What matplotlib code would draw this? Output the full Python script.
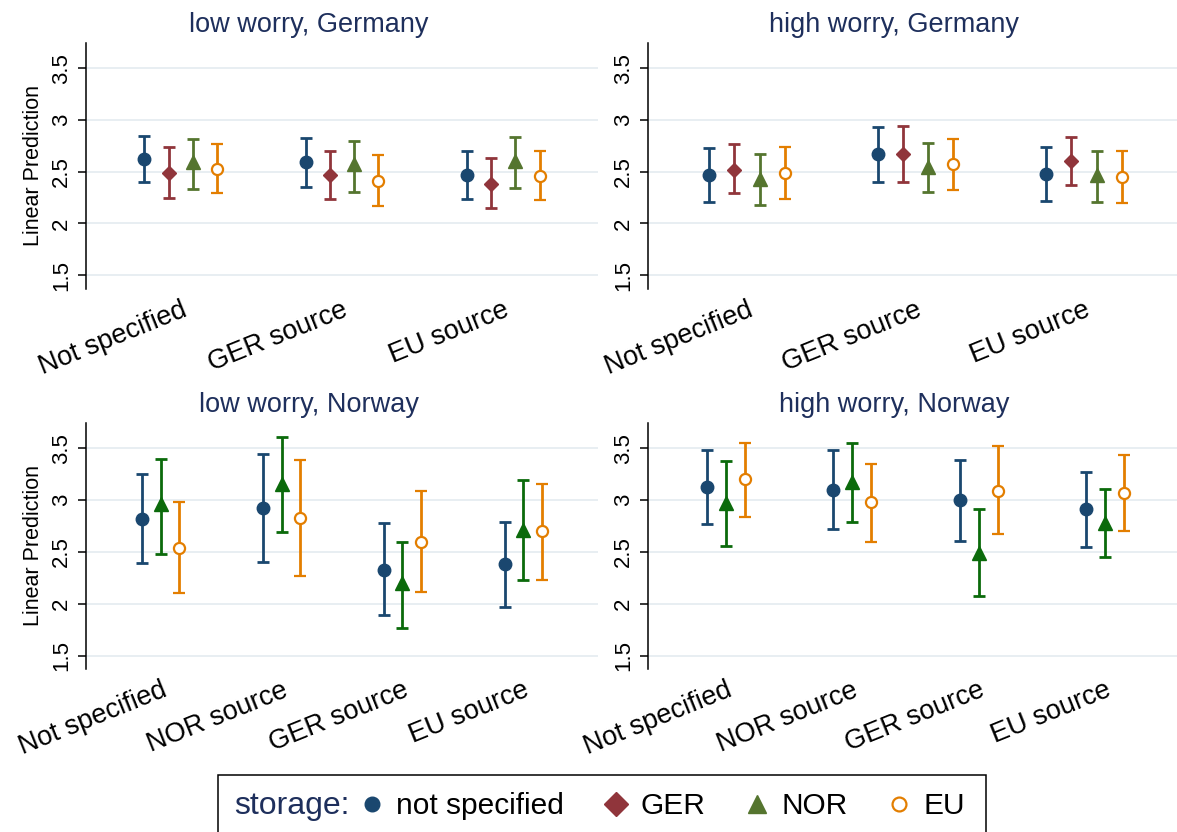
import numpy as np
import matplotlib.pyplot as plt
from matplotlib.lines import Line2D
from matplotlib.patches import Rectangle

plt.rcParams['font.family'] = ['Liberation Sans', 'DejaVu Sans']

# categories
storage = ['not specified', 'GER', 'NOR', 'EU']
src_ger = ['Not specified', 'GER source', 'EU source']
src_nor = ['Not specified', 'NOR source', 'GER source', 'EU source']

# low worry, Germany  (rows: storage not specified, GER, NOR, EU)
lg_est = [[2.62, 2.59, 2.47], [2.49, 2.47, 2.38], [2.59, 2.57, 2.60], [2.53, 2.41, 2.46]]
lg_lo = [[2.40, 2.35, 2.24], [2.25, 2.24, 2.15], [2.33, 2.30, 2.34], [2.29, 2.17, 2.23]]
lg_hi = [[2.85, 2.83, 2.70], [2.74, 2.70, 2.63], [2.82, 2.80, 2.84], [2.77, 2.66, 2.70]]

# high worry, Germany
hg_est = [[2.47, 2.67, 2.48], [2.52, 2.67, 2.60], [2.43, 2.55, 2.47], [2.49, 2.57, 2.45]]
hg_lo = [[2.21, 2.40, 2.22], [2.29, 2.40, 2.37], [2.18, 2.30, 2.21], [2.24, 2.32, 2.20]]
hg_hi = [[2.73, 2.93, 2.74], [2.77, 2.94, 2.84], [2.67, 2.78, 2.70], [2.74, 2.82, 2.70]]

# low worry, Norway  (rows: storage not specified, NOR, EU)
ln_est = [[2.82, 2.92, 2.33, 2.38], [2.96, 3.16, 2.20, 2.71], [2.54, 2.83, 2.60, 2.70]]
ln_lo = [[2.39, 2.40, 1.89, 1.97], [2.48, 2.69, 1.77, 2.23], [2.10, 2.27, 2.11, 2.23]]
ln_hi = [[3.25, 3.45, 2.78, 2.79], [3.40, 3.61, 2.60, 3.19], [2.98, 3.39, 3.09, 3.16]]

# high worry, Norway
hn_est = [[3.13, 3.10, 3.00, 2.91], [2.97, 3.18, 2.49, 2.78], [3.20, 2.98, 3.09, 3.07]]
hn_lo = [[2.77, 2.72, 2.61, 2.55], [2.56, 2.79, 2.07, 2.45], [2.84, 2.60, 2.67, 2.70]]
hn_hi = [[3.48, 3.48, 3.39, 3.27], [3.38, 3.55, 2.91, 3.11], [3.55, 3.35, 3.52, 3.44]]

navy = '#1a476f'
maroon = '#90353b'
olive = '#55752f'
dkgreen = '#0b6a0b'
orange = '#e37e00'
title_col = '#1e2f5c'
grid_col = '#e6edf1'

# marker style per storage level
sty = {
    'not specified': dict(marker='o', ms=9, mfc=navy, mec=navy, color=navy),
    'GER': dict(marker='D', ms=7.5, mfc=maroon, mec=maroon, color=maroon),
    'NOR': dict(marker='^', ms=9.5, mfc=olive, mec=olive, color=olive),
    'EU': dict(marker='o', ms=8, mfc='white', mec=orange, mew=1.6, color=orange),
}

W, H = 1177, 832
fig = plt.figure(figsize=(W / 100, H / 100), dpi=100)


def panel(rect, title, tx, cats, series, est, lo, hi, ylab, nor_green=False):
    ax = fig.add_axes(rect)
    n = len(series)
    x = np.arange(1, len(cats) + 1)
    for i, s in enumerate(series):
        kw = dict(sty[s])
        if nor_green and s == 'NOR':
            kw.update(mfc=dkgreen, mec=dkgreen, color=dkgreen)
        e = np.array(est[i])
        yerr = [e - np.array(lo[i]), np.array(hi[i]) - e]
        ax.errorbar(x + (i - (n - 1) / 2) * 0.15, e, yerr=yerr, ls='none',
                    elinewidth=2.0, capsize=4.5, capthick=2.0, zorder=3, **kw)
    pad = 0.587 if len(cats) == 3 else 0.617
    ax.set_xlim(1 - pad, len(cats) + pad)
    ax.set_ylim(1.37, 3.745)
    ax.set_yticks([1.5, 2, 2.5, 3, 3.5])
    ax.set_yticklabels(['1.5', '2', '2.5', '3', '3.5'], rotation=90, va='center')
    ax.set_xticks(x)
    ax.set_xticklabels(cats, rotation=22, ha='right', va='top', rotation_mode='anchor', fontsize=19.5)
    ax.tick_params(axis='x', length=0, pad=6)
    ax.tick_params(axis='y', length=6, width=1.1, labelsize=16, pad=4)
    for sp in ['top', 'right', 'bottom']:
        ax.spines[sp].set_visible(False)
    ax.spines['left'].set_linewidth(1.1)
    ax.grid(axis='y', color=grid_col, lw=1.3)
    ax.set_axisbelow(True)
    if ylab:
        ax.set_ylabel('Linear Prediction', fontsize=15.5, labelpad=5)
    fig.text(tx / W, rect[1] + rect[3] + 18 / H, title, ha='center', va='center',
             fontsize=19.5, color=title_col)
    return ax


top_b, top_h = (H - 288.5) / H, 245.5 / H
bot_b, bot_h = (H - 669) / H, 246 / H
lw_, rw_ = 512 / W, 535 / W

panel([86 / W, top_b, lw_, top_h], 'low worry, Germany', 309, src_ger, storage,
      lg_est, lg_lo, lg_hi, True)
panel([648 / W, top_b, rw_, top_h], 'high worry, Germany', 894, src_ger, storage,
      hg_est, hg_lo, hg_hi, False)
nor_series = ['not specified', 'NOR', 'EU']
panel([86 / W, bot_b, lw_, bot_h], 'low worry, Norway', 309, src_nor, nor_series,
      ln_est, ln_lo, ln_hi, True, nor_green=True)
panel([648 / W, bot_b, rw_, bot_h], 'high worry, Norway', 894, src_nor, nor_series,
      hn_est, hn_lo, hn_hi, False, nor_green=True)

# legend
leg_y = (H - 806) / H
fig.add_artist(Rectangle((218 / W, -0.05), 768 / W, 0.05 + (832 - 775) / H,
                         transform=fig.transFigure, fill=False, ec='black', lw=1.1))
fig.text(234 / W, leg_y, 'storage:', ha='left', va='center', fontsize=23, color=title_col)
leg_ms = {'not specified': 10.5, 'GER': 12.5, 'NOR': 12.5, 'EU': 10}
handles = []
for s in storage:
    kw = dict(sty[s])
    kw['ms'] = leg_ms[s]
    handles.append(Line2D([], [], ls='none', **kw))
fig.legend(handles, storage, loc='center left', bbox_to_anchor=(360 / W, leg_y), ncol=4,
           frameon=False, fontsize=21.5, handlelength=0.8, handletextpad=0.42,
           columnspacing=1.33, borderaxespad=0, borderpad=0)

fig.savefig('out.png', dpi=100)
